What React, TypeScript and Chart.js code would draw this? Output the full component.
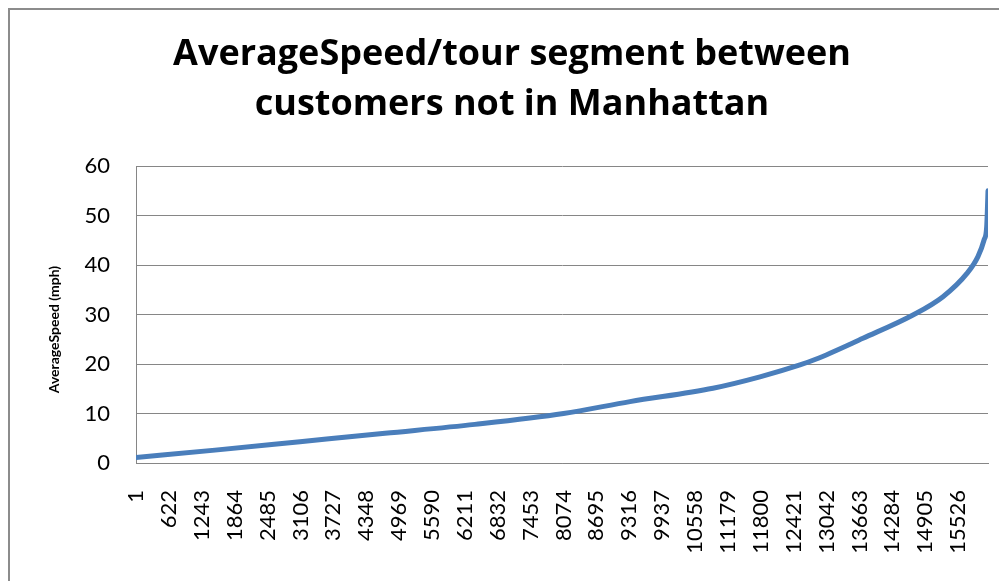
import React, { useEffect, useRef } from "react";
import { Chart, registerables } from "chart.js";

Chart.register(...registerables);

const chartTitle = ["AverageSpeed/tour segment between", "customers not in Manhattan"];
const yAxisTitle = "AverageSpeed (mph)";

// Segment index (sorted by speed) and average speed
const segmentIndex = [1, 1493, 3098, 4703, 6400, 8074, 9329, 10896, 11784, 12539, 12823, 13729, 14673, 15240, 15693, 15900, 16014, 16065, 16078, 16090];
const averageSpeed = [1.1, 2.6, 4.3, 6.0, 7.8, 10.0, 12.4, 15.1, 17.4, 19.8, 20.9, 25.2, 29.9, 33.6, 38.3, 41.7, 45.0, 47.7, 51.0, 55.0];

const xTickLabels = [1, 622, 1243, 1864, 2485, 3106, 3727, 4348, 4969, 5590, 6211, 6832, 7453, 8074, 8695, 9316, 9937, 10558, 11179, 11800, 12421, 13042, 13663, 14284, 14905, 15526];
const segmentCount = 16090;
const yMin = 0;
const yMax = 60;
const yStep = 10;

const FONT = "Lato, 'Open Sans', sans-serif";
const TITLE_FONT = "'Open Sans', Lato, sans-serif";
const GRID = "#868686";

const yTitlePlugin = {
  id: "yTitle",
  afterDraw(chart: any) {
    const { ctx, chartArea } = chart;
    ctx.save();
    ctx.translate(chartArea.left - 82, (chartArea.top + chartArea.bottom) / 2 + 15);
    ctx.rotate(-Math.PI / 2);
    ctx.font = "bold 14px " + FONT;
    ctx.fillStyle = "#000";
    ctx.textAlign = "center";
    ctx.textBaseline = "middle";
    ctx.fillText(yAxisTitle, 0, 0);
    ctx.restore();
  },
};

export default function App() {
  const ref = useRef<HTMLCanvasElement>(null);
  useEffect(() => {
    if (!ref.current) return;
    const chart = new Chart(ref.current, {
      type: "line",
      data: {
        datasets: [
          {
            data: segmentIndex.map((x, i) => ({ x, y: averageSpeed[i] })),
            borderColor: "#4a7ebb",
            borderWidth: 5,
            pointRadius: 0,
            cubicInterpolationMode: "monotone",
            borderCapStyle: "round",
            fill: false,
          },
        ],
      },
      options: {
        responsive: false,
        animation: false,
        layout: { padding: { left: 7, right: 0, top: 0, bottom: 0 } },
        plugins: {
          legend: { display: false },
          tooltip: { enabled: false },
          title: {
            display: true,
            text: chartTitle,
            color: "#000",
            font: { family: TITLE_FONT, size: 36, weight: "bold", lineHeight: 50 / 36 },
            padding: { top: 19.5, bottom: 36.5 },
          },
        },
        scales: {
          x: {
            type: "linear",
            min: 1,
            max: segmentCount,
            afterBuildTicks: (scale: any) => {
              scale.ticks = xTickLabels.map((value) => ({ value }));
            },
            afterFit: (scale: any) => {
              scale.height = 118;
              scale.paddingRight = 19;
            },
            grid: { display: false, drawTicks: false },
            border: { display: true, color: GRID, width: 1 },
            ticks: {
              autoSkip: false,
              maxRotation: 90,
              minRotation: 90,
              padding: 27,
              color: "#000",
              font: { family: FONT, size: 22 },
              callback: (v: any) => String(v),
            },
          },
          y: {
            min: yMin,
            max: yMax,
            afterFit: (scale: any) => {
              scale.width = 119;
            },
            grid: { color: GRID, lineWidth: 1, drawTicks: false },
            border: { display: true, color: GRID, width: 1 },
            ticks: {
              stepSize: yStep,
              padding: 26,
              color: "#000",
              font: { family: FONT, size: 22 },
            },
          },
        },
      },
      plugins: [yTitlePlugin],
    } as any);
    return () => chart.destroy();
  }, []);
  return (
    <div
      style={{
        width: 997,
        height: 571,
        borderTop: "2px solid #8c8c8c",
        borderLeft: "2px solid #8c8c8c",
        background: "#fff",
      }}
    >
      <canvas ref={ref} width={997} height={571} style={{ display: "block" }} />
    </div>
  );
}
